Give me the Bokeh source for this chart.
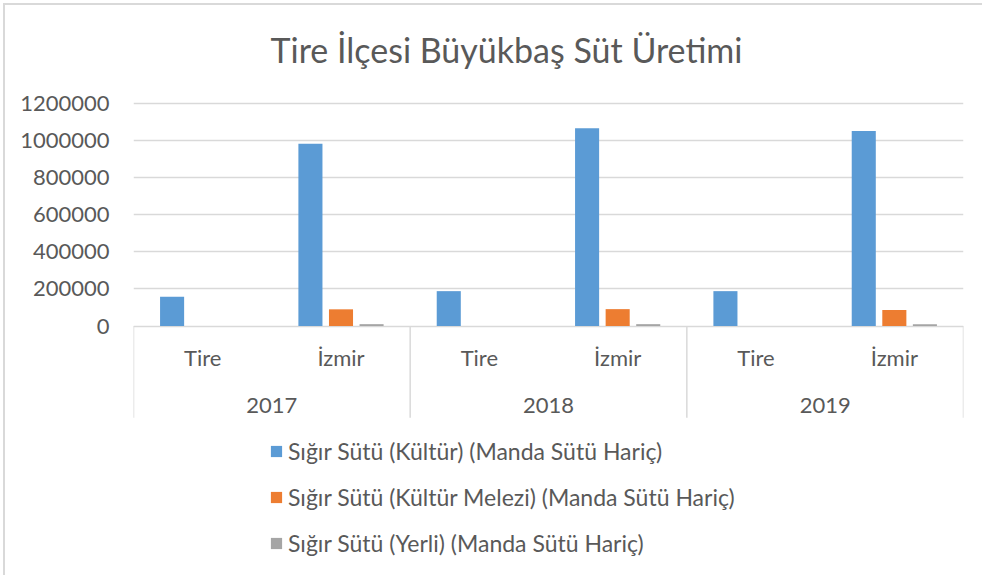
from bokeh.plotting import figure
from bokeh.models import (FactorRange, Range1d, ColumnDataSource, FixedTicker,
                          NumeralTickFormatter, Legend, LegendItem, Title)
from bokeh.transform import dodge
from bokeh.core.properties import value
from bokeh.embed import file_html
from bokeh.resources import INLINE

# ---------------- data ----------------
years = ["2017", "2018", "2019"]
places = ["Tire", "İzmir"]
series_names = [
    "Sığır Sütü (Kültür) (Manda Sütü Hariç)",
    "Sığır Sütü (Kültür Melezi) (Manda Sütü Hariç)",
    "Sığır Sütü (Yerli) (Manda Sütü Hariç)",
]
kultur = [158000, 983000, 188000, 1067000, 188000, 1051000]
kultur_melezi = [0, 90000, 0, 91000, 0, 86000]
yerli = [0, 10000, 0, 10000, 0, 10000]
y_ticks = [0, 200000, 400000, 600000, 800000, 1000000, 1200000]
title_text = "Tire İlçesi Büyükbaş Süt Üretimi"

colors = ["#5B9BD5", "#ED7D31", "#A5A5A5"]
text_color = "#595959"
grid_color = "#D9D9D9"
FONT = "Lato"

# ---------------- layout helpers (pixels) ----------------
W, H = 979, 572
page_off = 6
frame_left, frame_right = 134, 964
frame_top, frame_bottom = 90, 574
zero_px, top_px = 326, 103           # pixel rows of 0 and 1200000
units_per_px = (y_ticks[-1] - y_ticks[0]) / (zero_px - top_px)


def px_to_val(py):
    return (zero_px - py) * units_per_px


factors = [(y, pl) for y in years for pl in places]
x_range = FactorRange(*factors, group_padding=0, factor_padding=0,
                      subgroup_padding=0, range_padding=0)
y_range = Range1d(px_to_val(frame_bottom), px_to_val(frame_top))

p = figure(x_range=x_range, y_range=y_range, width=W, height=H,
           output_backend="svg", toolbar_location=None,
           min_border_left=frame_left - page_off,
           min_border_right=W - (frame_right - page_off),
           min_border_top=frame_top - page_off,
           min_border_bottom=H - (frame_bottom - page_off),
           styles={"margin-left": "3px", "margin-top": "3px",
                   "border-top": "2px solid #D9D9D9",
                   "border-left": "2px solid #D9D9D9"})

p.title = Title(text=title_text, align="left", text_font=FONT,
                text_font_size="34px", text_font_style="normal",
                text_color=text_color, offset=271 - frame_left, standoff=42)

src = ColumnDataSource(dict(x=factors, kultur=kultur,
                            melez=kultur_melezi, yerli=yerli))

bw = 0.174
step = 0.221
r1 = p.vbar(x=dodge("x", -step, range=p.x_range), top="kultur", width=bw,
            bottom=0, source=src, color=colors[0], line_color=None)
r2 = p.vbar(x=dodge("x", 0, range=p.x_range), top="melez", width=bw,
            bottom=0, source=src, color=colors[1], line_color=None)
r3 = p.vbar(x=dodge("x", step, range=p.x_range), top="yerli", width=bw,
            bottom=0, source=src, color=colors[2], line_color=None)

# category axis separators
sep_bottom = px_to_val(418)
sep_src = ColumnDataSource(dict(x=years, y0=[0] * len(years),
                                y1=[sep_bottom] * len(years)))
p.segment(x0=dodge("x", -1.0, range=p.x_range), x1=dodge("x", -1.0, range=p.x_range),
          y0="y0", y1="y1", source=sep_src, line_color=grid_color, line_width=1.5)
end_src = ColumnDataSource(dict(x=[years[-1]], y0=[0], y1=[sep_bottom]))
p.segment(x0=dodge("x", 1.0, range=p.x_range), x1=dodge("x", 1.0, range=p.x_range),
          y0="y0", y1="y1", source=end_src, line_color=grid_color, line_width=1.5)

# category labels
lab_src = ColumnDataSource(dict(x=factors, t=[f[1] for f in factors],
                                y=[0] * len(factors)))
p.text(x="x", y="y", text="t", source=lab_src, y_offset=31,
       text_align="center", text_baseline="middle", text_font=value(FONT),
       text_font_size="22px", text_color=text_color)
yr_src = ColumnDataSource(dict(x=years, t=years, y=[0] * len(years)))
p.text(x="x", y="y", text="t", source=yr_src, y_offset=79,
       text_align="center", text_baseline="middle", text_font=value(FONT),
       text_font_size="22px", text_color=text_color)

# axes
p.xaxis.visible = False
p.xgrid.visible = False
p.yaxis.ticker = FixedTicker(ticks=y_ticks)
p.yaxis.formatter = NumeralTickFormatter(format="0")
p.yaxis.axis_line_color = None
p.yaxis.major_tick_line_color = None
p.yaxis.minor_tick_line_color = None
p.yaxis.major_tick_in = 0
p.yaxis.major_tick_out = 0
p.yaxis.major_label_standoff = 24
p.yaxis.major_label_text_font = FONT
p.yaxis.major_label_text_font_size = "22px"
p.yaxis.major_label_text_color = text_color
p.ygrid.ticker = FixedTicker(ticks=y_ticks)
p.ygrid.grid_line_color = grid_color
p.ygrid.grid_line_width = 1.5

p.outline_line_color = None
p.background_fill_color = "white"
p.border_fill_color = "white"

legend = Legend(items=[LegendItem(label=series_names[0], renderers=[r1]),
                       LegendItem(label=series_names[1], renderers=[r2]),
                       LegendItem(label=series_names[2], renderers=[r3])],
                location=(136, 16), orientation="vertical",
                label_text_font=FONT, label_text_font_size="23px",
                label_text_color=text_color, glyph_width=14, glyph_height=14,
                label_standoff=5, spacing=18, padding=0, margin=0,
                border_line_color=None, background_fill_alpha=0)
p.add_layout(legend, "center")

open("out.html", "w").write(file_html(p, INLINE))
